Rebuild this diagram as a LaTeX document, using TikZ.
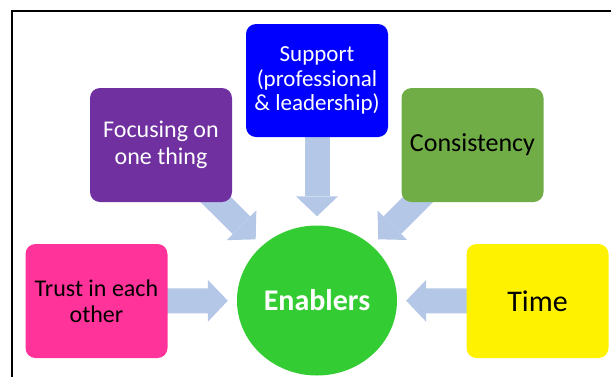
\documentclass[tikz,border=0pt]{standalone}
\usepackage{fontspec}
\setmainfont{Carlito}
\usetikzlibrary{arrows.meta,backgrounds,shapes.geometric}

\definecolor{trustpink}{HTML}{FF3399}
\definecolor{focuspurple}{HTML}{7030A0}
\definecolor{consgreen}{HTML}{70AD47}
\definecolor{enabgreen}{HTML}{33CC33}
\definecolor{linkblue}{HTML}{B4C7E7}

\begin{document}
\begin{tikzpicture}
  [x=1pt,y=-1pt,every node/.style={rectangle,rounded corners=10pt,minimum width=142pt,
    minimum height=114pt,align=center,font=\fontsize{24}{26.5}\selectfont}]
  \tikzstyle{link} = [draw=linkblue,line width=25pt,shorten >=9pt,
    -{Triangle[length=20pt,width=42pt,line width=0pt]}]
  \useasboundingbox (0,0) rectangle (611,376);
  \clip (0,0) rectangle (611,376);

  \node[fill=trustpink] (n1) at (96.5,301) {Trust in each\\other};
  \node[fill=focuspurple,text=white] (n2) at (161,145) {Focusing on\\one thing};
  \node[fill=blue,text=white,minimum height=113pt,font=\fontsize{23}{24.5}\selectfont]
    (n3) at (317,80.5) {Support\\(professional\\\& leadership)};
  \node[fill=consgreen,font=\fontsize{26}{28}\selectfont] (n4) at (472.5,145) {Consistency};
  \node[fill=yellow,font=\fontsize{30}{32}\selectfont] (n5) at (537.5,301) {Time};
  \node[ellipse,fill=enabgreen,text=white,minimum width=160pt,minimum height=150pt,
    font=\fontsize{30}{32}\selectfont\bfseries] (n6) at (317,300.5) {Enablers};

  % block arrows into the circle, kept under the boxes
  \begin{pgfonlayer}{background}
    \foreach \source in {n1,n2,n3,n4,n5}
      \draw[link] (\source.center) -- (n6);
  \end{pgfonlayer}

  % frame
  \draw[line width=2pt] (11.5,380) -- (11.5,10.5) -- (615,10.5);
\end{tikzpicture}
\end{document}
